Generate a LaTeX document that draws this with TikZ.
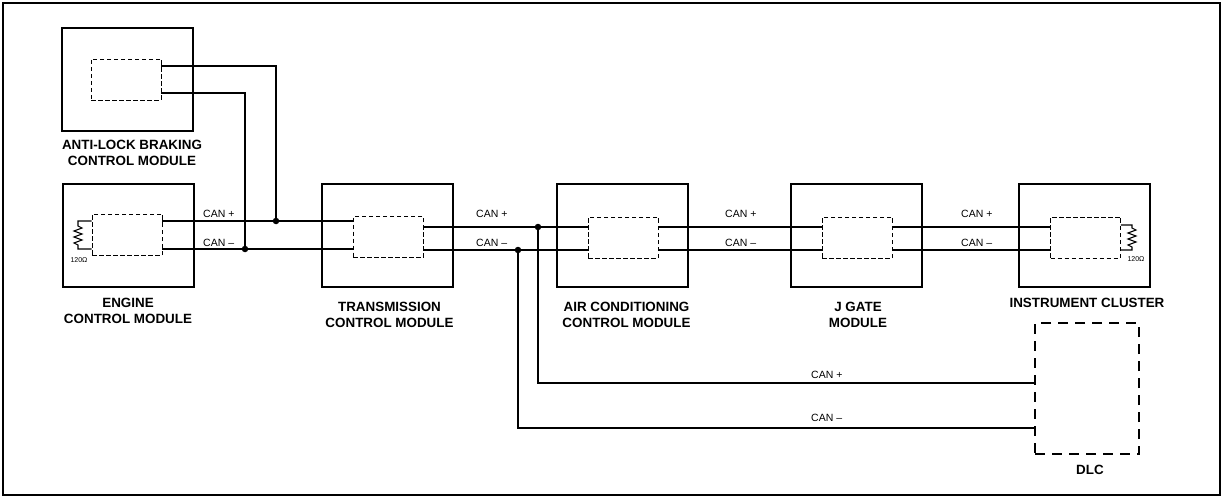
\documentclass[tikz,border=0pt]{standalone}
\usepackage{fontspec}
\setmainfont{Liberation Sans}
\begin{document}
\begin{tikzpicture}[x=1pt,y=-1pt,
 module/.style={draw, line width=2.2pt, minimum width=131pt, minimum height=103pt, inner sep=0pt},
 inbox/.style={draw, line width=0.9pt, dash pattern=on 4.5pt off 2.5pt, minimum width=70pt, minimum height=41pt, inner sep=0pt},
 dlcbox/.style={draw, line width=2.4pt, dash pattern=on 10pt off 7pt, minimum width=104pt, minimum height=131pt, inner sep=0pt},
 wire/.style={line width=1.4pt},
 res/.style={line width=1.1pt, line join=miter},
 lbl/.style={font=\fontsize{13.4}{16}\selectfont\bfseries, align=center, inner sep=0pt},
 canlbl/.style={font=\fontsize{10.5}{12}\selectfont, anchor=west, inner sep=0pt},
 jdot/.style={circle, fill, inner sep=0pt, minimum size=6.5pt},
 ohm/.style={font=\fontsize{7}{8}\selectfont, inner sep=0pt}]
\useasboundingbox (0,0) rectangle (1223,497);
\draw[line width=1.6pt] (3,3) rectangle (1220,495);

% modules
\node[module] (abs) at (127.5,79.5) {};
\node[inbox]  (absin) at (126,79.5) {};
\node[module] (ecm) at (128.5,235.5) {};
\node[inbox]  (ecmin) at (127,234.5) {};
\node[module] (tcm) at (387.5,235.5) {};
\node[inbox]  (tcmin) at (388,237) {};
\node[module] (ac) at (622.5,235.5) {};
\node[inbox]  (acin) at (623,237.5) {};
\node[module] (jg) at (856.5,235.5) {};
\node[inbox]  (jgin) at (857,237.5) {};
\node[module] (ic) at (1084.5,235.5) {};
\node[inbox]  (icin) at (1085.5,237.5) {};
\node[dlcbox] (dlc) at (1087,388.5) {};

% labels
\node[lbl] (absl) at (132,152.5) {ANTI-LOCK BRAKING\\CONTROL MODULE};
\node[lbl] (ecml) at (128,310.5) {ENGINE\\CONTROL MODULE};
\node[lbl] (tcml) at (389.5,315) {TRANSMISSION\\CONTROL MODULE};
\node[lbl] (acl) at (626.5,315) {AIR CONDITIONING\\CONTROL MODULE};
\node[lbl] (jgl) at (858,315) {J GATE\\MODULE};
\node[lbl] (icl) at (1087,303) {INSTRUMENT CLUSTER};
\node[lbl] (dlcl) at (1090,470) {DLC};

% bus levels
\coordinate (absP) at (0,66);
\coordinate (absM) at (0,93);
\coordinate (p1) at (0,221);
\coordinate (m1) at (0,249);
\coordinate (p2) at (0,227);
\coordinate (m2) at (0,250);
\coordinate (pd) at (0,383);
\coordinate (md) at (0,428);

% junctions
\node[jdot] (j1) at (276,221) {};
\node[jdot] (j2) at (245,249) {};
\node[jdot] (j3) at (538,227) {};
\node[jdot] (j4) at (518,250) {};

% ABS wires
\draw[wire] (absin.east |- absP) -| (j1.center);
\draw[wire] (absin.east |- absM) -| (j2.center);

% bus ECM - TCM
\draw[wire] (ecmin.east |- p1) -- (tcmin.west |- p1);
\draw[wire] (ecmin.east |- m1) -- (tcmin.west |- m1);
% bus TCM - AC
\draw[wire] (tcmin.east |- p2) -- (acin.west |- p2);
\draw[wire] (tcmin.east |- m2) -- (acin.west |- m2);
% bus AC - JG
\draw[wire] (acin.east |- p2) -- (jgin.west |- p2);
\draw[wire] (acin.east |- m2) -- (jgin.west |- m2);
% bus JG - IC
\draw[wire] (jgin.east |- p2) -- (icin.west |- p2);
\draw[wire] (jgin.east |- m2) -- (icin.west |- m2);
% DLC branch
\draw[wire] (j3.center) |- (dlc.west |- pd);
\draw[wire] (j4.center) |- (dlc.west |- md);

% CAN labels
\foreach \x in {203,476,725,961}{
  \node[canlbl] at (\x,214) {CAN +};
  \node[canlbl] at (\x,243) {CAN –};
}
\node[canlbl] (dlcp) at (811,375) {CAN +};
\node[canlbl] (dlcm) at (811,418) {CAN –};

% resistors
\coordinate (r1) at (78,221);
\draw[res] (ecmin.west |- p1) -- (r1) -- ++(0,5) -- ++(4,2) -- ++(-8,3) -- ++(8,3) -- ++(-8,3) -- ++(8,3) -- ++(-8,3) -- ++(4,2) -- (r1 |- m1) -- (ecmin.west |- m1);
\node[ohm] (o1) at (79,260) {120Ω};
\coordinate (r2) at (1132,225);
\draw[res] (icin.east |- r2) -- (r2) -- ++(0,3) -- ++(4,2) -- ++(-8,3) -- ++(8,3) -- ++(-8,3) -- ++(8,3) -- ++(-8,3) -- ++(4,2) -- (r2 |- m2) -- (icin.east |- m2);
\node[ohm] (o2) at (1136,259) {120Ω};
\end{tikzpicture}
\end{document}
